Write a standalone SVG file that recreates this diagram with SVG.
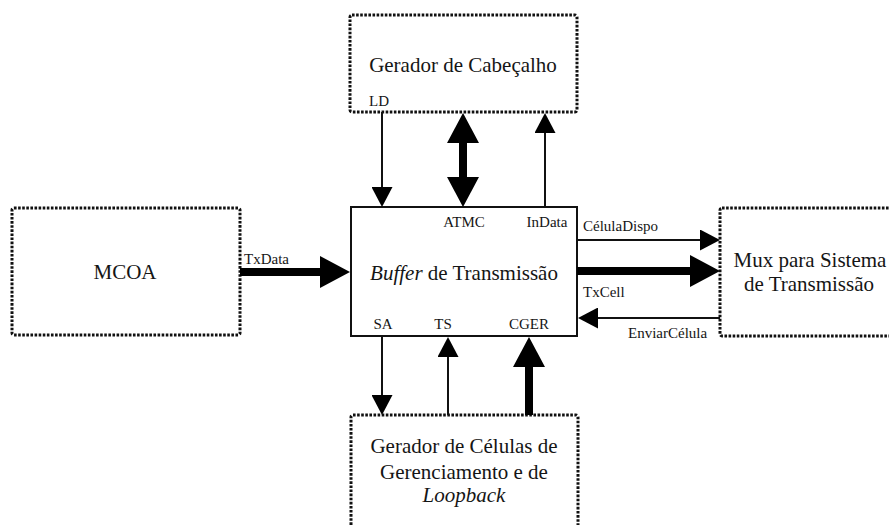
<svg xmlns="http://www.w3.org/2000/svg" width="889" height="525" viewBox="0 0 889 525" font-family="'Liberation Serif', 'DejaVu Serif', serif">
  <style>
    text { font-family: 'Liberation Serif', 'DejaVu Serif', serif; fill: #151515; }
    .big { font-size: 21px; }
    .small { font-size: 15px; }
    .mid { text-anchor: middle; }
    .it { font-style: italic; }
    .dotted { fill: none; stroke: #111; stroke-width: 3; stroke-dasharray: 2.6 1.5; }
    .solid { fill: none; stroke: #111; stroke-width: 2; }
    .thin { stroke: #111; stroke-width: 2; fill: none; }
    .thick { stroke: #000; stroke-width: 8; fill: none; }
  </style>
  <defs>
    <marker id="headThin" viewBox="0 0 20 21" markerWidth="20" markerHeight="21" refX="0" refY="10.5" markerUnits="userSpaceOnUse" orient="auto-start-reverse">
      <path d="M0,0 L20,10.5 L0,21 Z" fill="#000"/>
    </marker>
    <marker id="headThick" viewBox="0 0 30 32" markerWidth="30" markerHeight="32" refX="0" refY="16" markerUnits="userSpaceOnUse" orient="auto-start-reverse">
      <path d="M0,0 L30,16 L0,32 Z" fill="#000"/>
    </marker>
  </defs>
  <rect width="889" height="525" fill="#fff"/>

  <!-- blocks -->
  <g id="gerador-cabecalho">
    <rect class="dotted" x="350" y="15" width="227" height="97" rx="2"/>
    <text class="big mid" x="463" y="72">Gerador de Cabeçalho</text>
    <text class="small" x="369" y="106">LD</text>
  </g>

  <g id="mcoa">
    <rect class="dotted" x="12" y="208" width="228" height="127" rx="2"/>
    <text class="big mid" x="125" y="279">MCOA</text>
  </g>

  <g id="buffer-transmissao">
    <rect class="solid" x="351" y="207" width="226" height="129"/>
    <text class="big mid" x="464" y="280"><tspan class="it">Buffer</tspan> de Transmissão</text>
    <text class="small mid" x="464" y="227">ATMC</text>
    <text class="small mid" x="547" y="227">InData</text>
    <text class="small mid" x="383" y="329">SA</text>
    <text class="small mid" x="443" y="329">TS</text>
    <text class="small mid" x="529" y="329">CGER</text>
  </g>

  <g id="mux-transmissao">
    <rect class="dotted" x="720" y="208" width="200" height="128" rx="2"/>
    <text class="big mid" x="810" y="267">Mux para Sistema</text>
    <text class="big mid" x="809" y="291">de Transmissão</text>
  </g>

  <g id="gerador-celulas">
    <rect class="dotted" x="351" y="415" width="227" height="130" rx="2"/>
    <text class="big mid" x="464" y="453">Gerador de Células de</text>
    <text class="big mid" x="464" y="479">Gerenciamento e de</text>
    <text class="big mid it" x="464" y="502">Loopback</text>
  </g>

  <!-- connectors -->
  <g id="connectors">
    <line class="thin" x1="382" y1="112" x2="382" y2="187" marker-end="url(#headThin)"/>
    <line class="thick" x1="463" y1="143" x2="463" y2="177" marker-start="url(#headThick)" marker-end="url(#headThick)"/>
    <line class="thin" x1="545" y1="207" x2="545" y2="133" marker-end="url(#headThin)"/>

    <line class="thick" x1="240" y1="272" x2="320" y2="272" marker-end="url(#headThick)"/>
    <text class="small" x="244" y="264">TxData</text>

    <line class="thin" x1="577" y1="240" x2="700" y2="240" marker-end="url(#headThin)"/>
    <text class="small" x="583" y="231">CélulaDispo</text>
    <line class="thick" x1="577" y1="271" x2="690" y2="271" marker-end="url(#headThick)"/>
    <text class="small" x="583" y="297">TxCell</text>
    <line class="thin" x1="720" y1="318" x2="598" y2="318" marker-end="url(#headThin)"/>
    <text class="small" x="628" y="338">EnviarCélula</text>

    <line class="thin" x1="382" y1="336" x2="382" y2="395" marker-end="url(#headThin)"/>
    <line class="thin" x1="448" y1="415" x2="448" y2="357" marker-end="url(#headThin)"/>
    <line class="thick" x1="529" y1="415" x2="529" y2="367" marker-end="url(#headThick)"/>
  </g>
</svg>
